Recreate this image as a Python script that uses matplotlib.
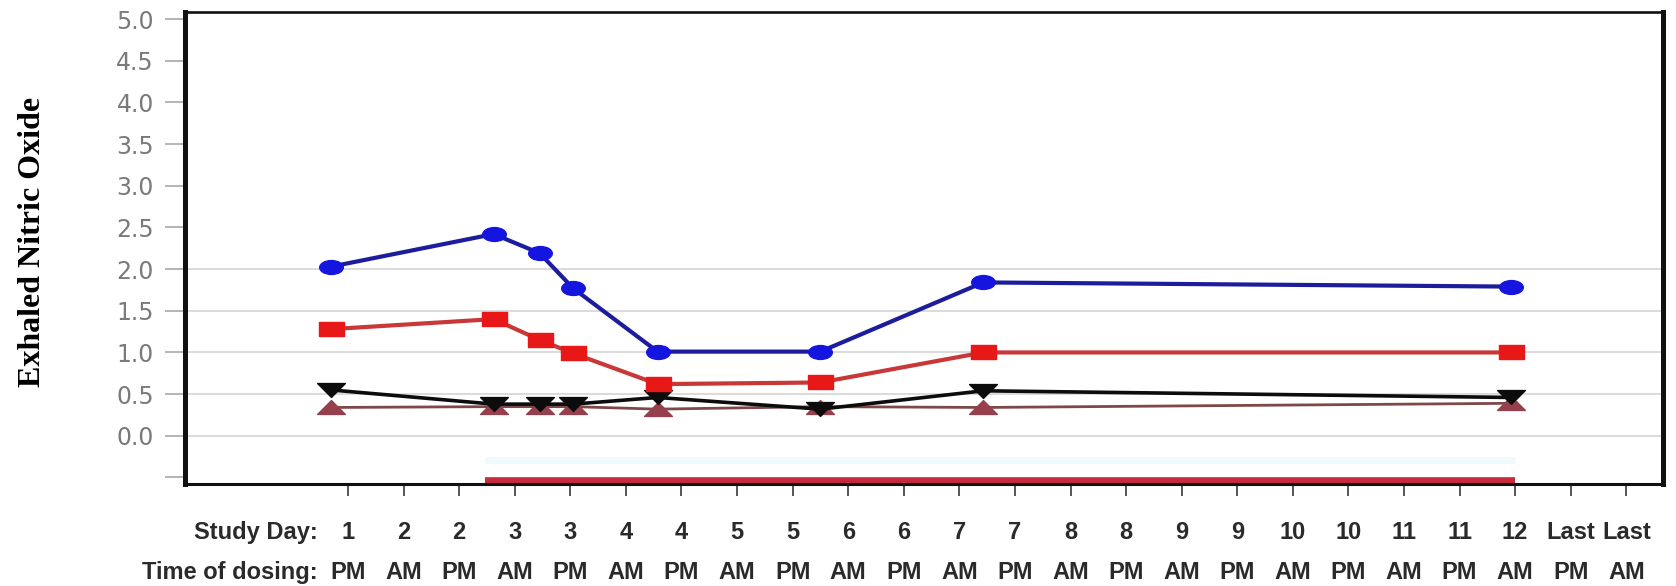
import matplotlib
matplotlib.use("Agg")
import matplotlib.pyplot as plt
from matplotlib.path import Path
from matplotlib.markers import MarkerStyle
from matplotlib import font_manager
import numpy as np

# ---------------- data ----------------
study_day = ['1', '2', '2', '3', '3', '4', '4', '5', '5', '6', '6', '7', '7',
             '8', '8', '9', '9', '10', '10', '11', '11', '12', 'Last', 'Last']
dose_time = ['PM', 'AM', 'PM', 'AM', 'PM', 'AM', 'PM', 'AM', 'PM', 'AM', 'PM', 'AM',
             'PM', 'AM', 'PM', 'AM', 'PM', 'AM', 'PM', 'AM', 'PM', 'AM', 'PM', 'AM']

# measurement positions on the dosing-time axis (in tick units)
visit_pos = [-0.3, 2.62, 3.45, 4.05, 5.57, 8.5, 11.43, 20.93]

series_blue = [2.03, 2.42, 2.19, 1.77, 1.01, 1.01, 1.84, 1.79]
series_red = [1.28, 1.40, 1.15, 0.99, 0.62, 0.64, 1.00, 1.00]
series_black = [0.55, 0.38, 0.38, 0.38, 0.46, 0.32, 0.54, 0.46]
series_brown = [0.34, 0.35, 0.35, 0.35, 0.32, 0.35, 0.34, 0.39]

# treatment period bar at the bottom of the plot
treatment_span = [2.47, 21.0]
treatment_level = -0.54
band_level = -0.29

y_ticks = [-0.5, 0.0, 0.5, 1.0, 1.5, 2.0, 2.5, 3.0, 3.5, 4.0, 4.5, 5.0]
y_tick_labels = ['', '0.0', '0.5', '1.0', '1.5', '2.0', '2.5', '3.0', '3.5', '4.0', '4.5', '5.0']
grid_levels = [0.0, 0.5, 1.0, 1.5, 2.0]

# ---------------- fonts ----------------
names = {f.name for f in font_manager.fontManager.ttflist}
if 'Liberation Sans Narrow' in names:
    xfont, xsize = 'Liberation Sans Narrow', 20
else:
    xfont, xsize = 'Liberation Sans', 17

# ---------------- custom (stretched) markers ----------------
circ = Path.unit_circle()
ellipse = Path(circ.vertices * np.array([1.7, 1.0]), circ.codes)
rect = Path([(-1.8, -1), (1.8, -1), (1.8, 1), (-1.8, 1), (-1.8, -1)],
            [Path.MOVETO, Path.LINETO, Path.LINETO, Path.LINETO, Path.CLOSEPOLY])
tri_down = Path([(-2, 1), (2, 1), (0, -1), (-2, 1)],
                [Path.MOVETO, Path.LINETO, Path.LINETO, Path.CLOSEPOLY])
tri_up = Path([(-2, -1), (2, -1), (0, 1), (-2, -1)],
              [Path.MOVETO, Path.LINETO, Path.LINETO, Path.CLOSEPOLY])

W, H = 1676, 586
fig = plt.figure(figsize=(W / 100, H / 100), dpi=100)
fig.patch.set_facecolor('white')
left_px, right_px, top_px, bottom_px = 185, 1663, 12, 484
ax = fig.add_axes([left_px / W, 1 - bottom_px / H, (right_px - left_px) / W,
                   (bottom_px - top_px) / H])

for g in grid_levels:
    ax.axhline(g, color='#d4d4d4', lw=1.2, zorder=0)

ax.plot(treatment_span, [band_level, band_level], color='#eefafc', lw=5,
        solid_capstyle='butt', zorder=1)
ax.plot(treatment_span, [treatment_level, treatment_level], color='#c62a3c', lw=5.5,
        solid_capstyle='butt', zorder=2)

ax.plot(visit_pos, series_brown, color='#7e4848', lw=2.0, marker=MarkerStyle(tri_up),
        markersize=20, markerfacecolor='#96404e', markeredgecolor='#96404e', zorder=3)
ax.plot(visit_pos, series_black, color='#0c0c0c', lw=2.6, marker=MarkerStyle(tri_down),
        markersize=20, markerfacecolor='#0c0c0c', markeredgecolor='#0c0c0c', zorder=4)
ax.plot(visit_pos, series_red, color='#c83838', lw=3.0, marker=MarkerStyle(rect),
        markersize=18, markerfacecolor='#e81818', markeredgecolor='#e81818', zorder=5)
ax.plot(visit_pos, series_blue, color='#1c1c9c', lw=3.0, marker=MarkerStyle(ellipse),
        markersize=17, markerfacecolor='#1515e0', markeredgecolor='#1515e0', zorder=6)

ax.set_xlim(-2.933, 23.66)
ax.set_ylim(-0.578, 5.084)

ax.set_yticks(y_ticks)
ax.set_yticklabels(y_tick_labels, family='DejaVu Sans', fontsize=17, color='#7a7a7a')
ax.tick_params(axis='y', direction='out', length=14.5, width=1.1, color='#a0a0a0', pad=8)

ax.set_xticks(range(len(study_day)))
ax.set_xticklabels([''] * len(study_day))
ax.tick_params(axis='x', direction='out', length=8.6, width=1.4, color='#555555')

for i, (d, t) in enumerate(zip(study_day, dose_time)):
    ax.annotate(d, xy=(i, 0), xycoords=('data', 'axes fraction'), xytext=(0, -39.5),
                textcoords='offset points', ha='center', va='baseline',
                family=xfont, fontweight='bold', fontsize=xsize, color='#2a2a2a',
                annotation_clip=False)
    ax.annotate(t, xy=(i, 0), xycoords=('data', 'axes fraction'), xytext=(0, -68.5),
                textcoords='offset points', ha='center', va='baseline',
                family=xfont, fontweight='bold', fontsize=xsize, color='#2a2a2a',
                annotation_clip=False)

ax.annotate('Study Day:', xy=(-0.54, 0), xycoords=('data', 'axes fraction'),
            xytext=(0, -39.5), textcoords='offset points', ha='right', va='baseline',
            family=xfont, fontweight='bold', fontsize=xsize, color='#2a2a2a',
            annotation_clip=False)
ax.annotate('Time of dosing:', xy=(-0.54, 0), xycoords=('data', 'axes fraction'),
            xytext=(0, -68.5), textcoords='offset points', ha='right', va='baseline',
            family=xfont, fontweight='bold', fontsize=xsize, color='#2a2a2a',
            annotation_clip=False)

for side, lw in [('left', 3.6), ('right', 3.6), ('top', 1.9), ('bottom', 2.2)]:
    ax.spines[side].set_linewidth(lw)
    ax.spines[side].set_color('#111111')

fig.text(32 / W, 1 - 242 / H, 'Exhaled Nitric Oxide', rotation=90, ha='center',
         va='center', fontsize=23, fontweight='bold', family='Liberation Serif',
         color='black')

fig.savefig('out.png', dpi=100, facecolor='white')
